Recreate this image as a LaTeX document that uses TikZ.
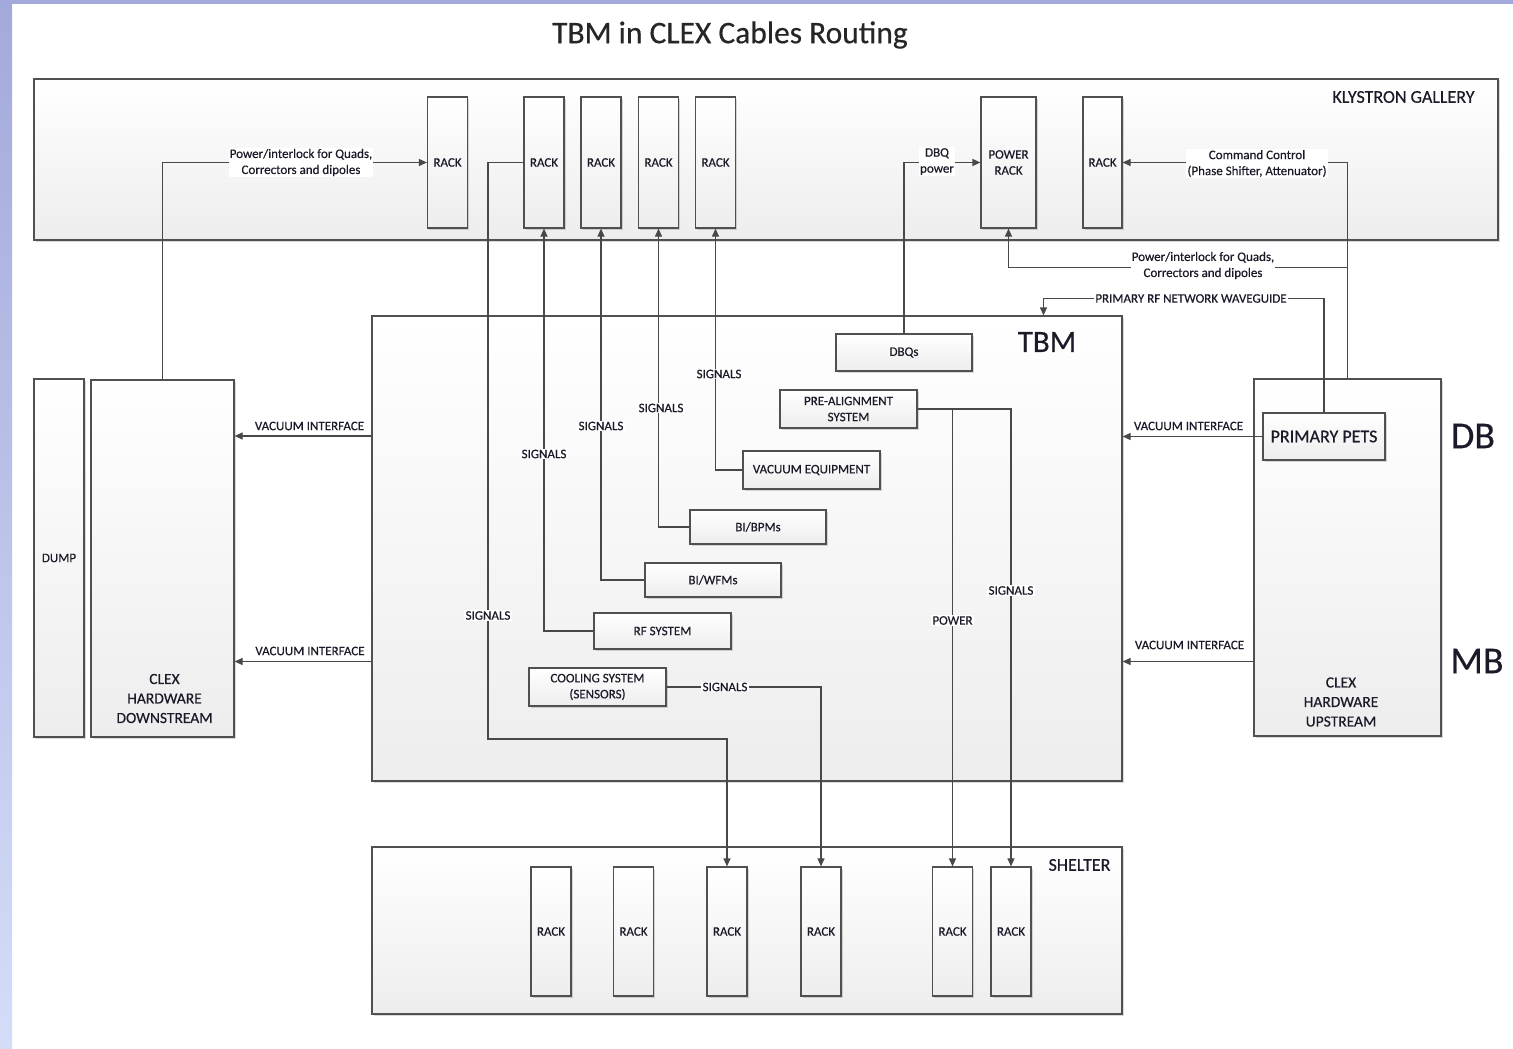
\documentclass[tikz,border=0pt]{standalone}
\usepackage{fontspec}
\setmainfont{Carlito}[FakeBold=0.4]
\usetikzlibrary{arrows.meta,shadows}

\definecolor{edge}{HTML}{505050}
\definecolor{wirec}{HTML}{484848}
\definecolor{ink}{HTML}{1A1A28}
\definecolor{frameA}{HTML}{A3A9DA}
\definecolor{frameB}{HTML}{D3DDF8}

\tikzset{
  every node/.style={text=ink},
  smallfont/.style={font=\fontsize{13}{16}\selectfont},
  midfont/.style={font=\fontsize{15.5}{19.5}\selectfont},
  zonefont/.style={font=\fontsize{18}{22}\selectfont},
  hugefont/.style={font=\fontsize{38}{44}\selectfont},
  shaded/.style={draw=edge, line width=1.2pt, top color=white, bottom color=black!7,
    drop shadow={shadow xshift=1.5pt, shadow yshift=-1.5pt, fill=black, opacity=0.15}},
  area/.style={shaded, inner sep=0pt},
  box/.style={shaded, inner sep=0pt, smallfont, align=center},
  rack/.style={box, minimum width=40pt, minimum height=131pt},
  srack/.style={box, minimum width=40pt, minimum height=129pt},
  wire/.style={draw=wirec, line width=1.2pt},
  arr/.style={wire, -{Triangle[length=8pt,width=7pt]}},
  tag/.style={fill=white, inner sep=1.2pt, smallfont, align=center},
  plain/.style={smallfont, align=center, inner sep=1pt},
}

\begin{document}
\begin{tikzpicture}[x=1pt,y=-1pt]
\useasboundingbox (0,0) rectangle (1513,1049);

% page frame
\fill[white] (0,0) rectangle (1513,1049);
\shade[top color=frameA, bottom color=frameB] (0,0) rectangle (12,1049);
\fill[frameA] (0,0) rectangle (1513,4);

% title
\node[font=\fontsize{31.5}{36}\selectfont, text=black!85] (ttl) at (730,35) {TBM in CLEX Cables Routing};

% klystron gallery
\node[area, minimum width=1464pt, minimum height=161pt] (gal) at (766,159.5) {};
\node[zonefont] (galtxt) at (1403.5,97) {KLYSTRON GALLERY};
\node[rack] (g1) at (447.5,162.5) {RACK};
\node[rack] (g2) at (544,162.5) {RACK};
\node[rack] (g3) at (601,162.5) {RACK};
\node[rack] (g4) at (658.5,162.5) {RACK};
\node[rack] (g5) at (715.5,162.5) {RACK};
\node[rack, minimum width=55pt] (gp) at (1008.5,162.5) {POWER\\RACK};
\node[rack, minimum width=39pt] (g7) at (1102.5,162.5) {RACK};

% beam module
\node[area, minimum width=750pt, minimum height=465pt] (tbm) at (747,548.5) {};
\node[font=\fontsize{31}{36}\selectfont] (tbmtxt) at (1047,342) {TBM};
\node[box, minimum width=136pt, minimum height=37pt] (dbq) at (904,352.5) {DBQs};
\node[box, minimum width=137pt, minimum height=38pt] (pa) at (848.5,409) {PRE-ALIGNMENT\\SYSTEM};
\node[box, minimum width=137pt, minimum height=38pt] (vac) at (811.5,470) {VACUUM EQUIPMENT};
\node[box, minimum width=136pt, minimum height=34pt] (bpm) at (758,527) {BI/BPMs};
\node[box, minimum width=136pt, minimum height=34pt] (wfm) at (713,580) {BI/WFMs};
\node[box, minimum width=137pt, minimum height=36pt] (rf) at (662.5,631) {RF SYSTEM};
\node[box, minimum width=137pt, minimum height=38pt] (cool) at (597.5,687) {COOLING SYSTEM\\(SENSORS)};

% downstream side
\node[area, smallfont, minimum width=50pt, minimum height=358pt] (dump) at (59,558) {DUMP};
\node[area, minimum width=143pt, minimum height=357pt] (down) at (162.5,558.5) {};
\node[midfont, align=center] (downtxt) at (164.5,698.5) {CLEX\\HARDWARE\\DOWNSTREAM};

% upstream side
\node[area, minimum width=187pt, minimum height=357pt] (up) at (1347.5,557.5) {};
\node[shaded, zonefont, inner sep=0pt, minimum width=122pt, minimum height=47pt] (pets) at (1324,436.5) {PRIMARY PETS};
\node[midfont, align=center] (uptxt) at (1341,702) {CLEX\\HARDWARE\\UPSTREAM};
\node[hugefont] (db) at (1473,436) {DB};
\node[hugefont] (mb) at (1477,661) {MB};

% shelter
\node[area, minimum width=750pt, minimum height=167pt] (shel) at (747,930.5) {};
\node[zonefont] (sheltxt) at (1079.5,865) {SHELTER};
\node[srack] (s1) at (551,931.5) {RACK};
\node[srack] (s2) at (633.5,931.5) {RACK};
\node[srack] (s3) at (727,931.5) {RACK};
\node[srack] (s4) at (821,931.5) {RACK};
\node[srack] (s5) at (952.5,931.5) {RACK};
\node[srack] (s6) at (1011,931.5) {RACK};

% bend points
\coordinate (sigleft) at (488,739);
\coordinate (pwrbend) at (0,267.5);
\coordinate (wgbend) at (1043.5,298.5);
\coordinate (vione) at (0,436);
\coordinate (vitwo) at (0,661.5);

% cables
\draw[arr] (down.north) |- (g1.west);
\draw[arr] (g2.west) -| (sigleft) -| (s3.north);
\draw[arr] (rf.west) -| (g2.south);
\draw[arr] (wfm.west) -| (g3.south);
\draw[arr] (bpm.west) -| (g4.south);
\draw[arr] (vac.west) -| (g5.south);
\draw[arr] (dbq.north) |- (gp.west);
\draw[arr] (up.north) |- (g7.east);
\draw[arr] (up.north |- pwrbend) -| (gp.south);
\draw[arr] (pets.north) |- (wgbend) -- (wgbend |- tbm.north);
\draw[arr] (pa.east) -| (s6.north);
\draw[arr] (pa.east -| s5.north) -- (s5.north);
\draw[arr] (cool.east) -| (s4.north);
\draw[arr] (pets.west) -- (pets.west -| tbm.east);
\draw[arr] (up.west |- vitwo) -- (tbm.east |- vitwo);
\draw[arr] (tbm.west |- vione) -- (down.east |- vione);
\draw[arr] (tbm.west |- vitwo) -- (down.east |- vitwo);

% cable labels
\node[tag] (lpw1) at (301,162.5) {Power/interlock for Quads,\\Correctors and dipoles};
\node[tag] (lpw2) at (1203,265.5) {Power/interlock for Quads,\\Correctors and dipoles};
\node[tag] (lcmd) at (1257,163.5) {Command Control\\(Phase Shifter, Attenuator)};
\node[tag] (ldbq) at (937,161.5) {DBQ\\power};
\node[tag] (lwg) at (1191,298.5) {PRIMARY RF NETWORK WAVEGUIDE};
\node[tag] (ls1) at (488,615.5) {SIGNALS};
\node[tag] (ls2) at (544,454) {SIGNALS};
\node[tag] (ls3) at (601,426) {SIGNALS};
\node[tag] (ls4) at (661,408) {SIGNALS};
\node[tag] (ls5) at (719,374) {SIGNALS};
\node[tag] (ls6) at (1011,590.5) {SIGNALS};
\node[tag] (ls7) at (725,687) {SIGNALS};
\node[tag] (lpow) at (952.5,620.5) {POWER};
\node[plain] (lv1) at (309.5,426) {VACUUM INTERFACE};
\node[plain] (lv2) at (310,651) {VACUUM INTERFACE};
\node[plain] (lv3) at (1188.5,426) {VACUUM INTERFACE};
\node[plain] (lv4) at (1189.5,645) {VACUUM INTERFACE};
\end{tikzpicture}
\end{document}
